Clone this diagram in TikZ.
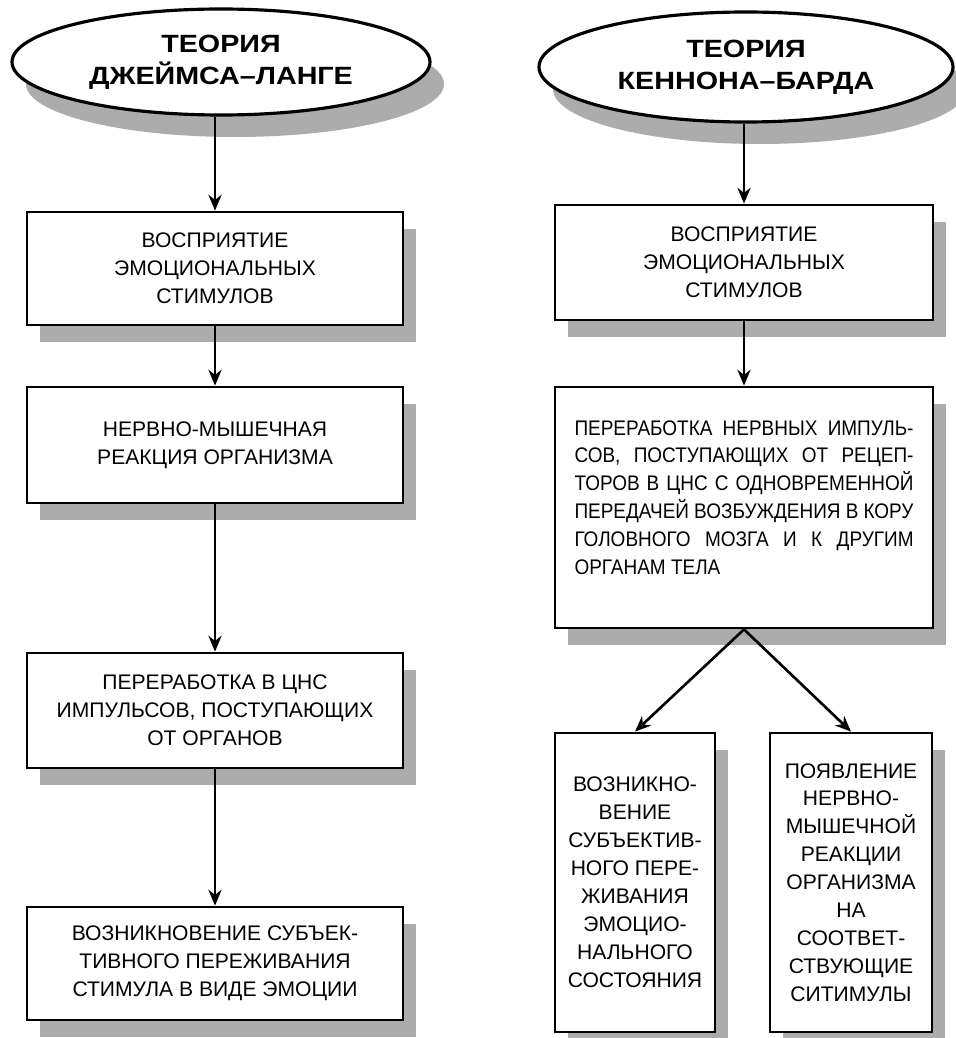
\documentclass[tikz,border=0pt]{standalone}
\usepackage{fontspec}
\setmainfont{Liberation Sans}
\newfontfamily\widefont[FakeStretch=1.15]{Liberation Sans}
\newfontfamily\narrowfont[FakeStretch=0.9]{Liberation Sans}
\usepackage{tikz}
\usetikzlibrary{shapes.geometric, arrows.meta, positioning, shadows}

\newlength{\jw}
\setlength{\jw}{6.78cm}
\newcommand{\jline}[1]{\makebox[\jw][s]{#1}}

\begin{document}
\begin{tikzpicture}[
  title/.style={
    ellipse, draw=black, line width=1.8pt, fill=white, inner sep=0pt,
    font=\widefont\fontsize{14.2}{18.2}\selectfont\bfseries, align=center,
    drop shadow={shadow xshift=0.28cm, shadow yshift=-0.44cm,
      fill=gray!65, opacity=1}
  },
  box/.style={
    rectangle, draw=black, line width=1.6pt, fill=white, inner sep=0pt,
    font=\fontsize{12}{15.9}\selectfont, align=center,
    drop shadow={shadow xshift=0.25cm, shadow yshift=-0.34cm,
      fill=gray!65, opacity=1}
  },
  arrow/.style={-{Stealth[length=9pt, width=7.5pt]}, line width=1.5pt}
]
\useasboundingbox (0,0) rectangle (19.12,-20.76);

% --- Left column: James-Lange ---
\node[title, minimum width=8.36cm, minimum height=2.12cm] (jl) at (4.42,-1.24)
  {ТЕОРИЯ\\ДЖЕЙМСА–ЛАНГЕ};
\node[box, minimum width=7.52cm, minimum height=2.26cm] (jl1) at (4.3,-5.37)
  {ВОСПРИЯТИЕ\\ЭМОЦИОНАЛЬНЫХ\\СТИМУЛОВ};
\node[box, minimum width=7.52cm, minimum height=2.32cm] (jl2) at (4.3,-8.9)
  {НЕРВНО-МЫШЕЧНАЯ\\РЕАКЦИЯ ОРГАНИЗМА};
\node[box, minimum width=7.52cm, minimum height=2.3cm] (jl3) at (4.3,-14.21)
  {ПЕРЕРАБОТКА В ЦНС\\ИМПУЛЬСОВ, ПОСТУПАЮЩИХ\\ОТ ОРГАНОВ};
\node[box, minimum width=7.52cm, minimum height=2.26cm] (jl4) at (4.3,-19.27)
  {ВОЗНИКНОВЕНИЕ СУБЪЕК-\\ТИВНОГО ПЕРЕЖИВАНИЯ\\СТИМУЛА В ВИДЕ ЭМОЦИИ};

% --- Right column: Cannon-Bard ---
\node[title, minimum width=8.28cm, minimum height=2.2cm] (kb) at (14.92,-1.34)
  {ТЕОРИЯ\\КЕННОНА–БАРДА};
\node[box, minimum width=7.56cm, minimum height=2.3cm] (kb1) at (14.88,-5.25)
  {ВОСПРИЯТИЕ\\ЭМОЦИОНАЛЬНЫХ\\СТИМУЛОВ};
\node[box, minimum width=7.56cm, minimum height=4.82cm, align=left,
      font=\narrowfont\fontsize{12}{15.9}\selectfont] (kb2) at (14.88,-10.15)
  {\jline{ПЕРЕРАБОТКА НЕРВНЫХ ИМПУЛЬ-}\\
   \jline{СОВ, ПОСТУПАЮЩИХ ОТ РЕЦЕП-}\\
   \jline{ТОРОВ В ЦНС С ОДНОВРЕМЕННОЙ}\\
   \jline{ПЕРЕДАЧЕЙ ВОЗБУЖДЕНИЯ В КОРУ}\\
   \jline{ГОЛОВНОГО МОЗГА И К ДРУГИМ}\\
   ОРГАНАМ ТЕЛА\\[-0.16cm]};
\node[box, minimum width=3.2cm, minimum height=5.98cm] (kbl) at (12.7,-17.65)
  {ВОЗНИКНО-\\ВЕНИЕ\\СУБЪЕКТИВ-\\НОГО ПЕРЕ-\\ЖИВАНИЯ\\ЭМОЦИО-\\НАЛЬНОГО\\СОСТОЯНИЯ};
\node[box, minimum width=3.24cm, minimum height=5.98cm] (kbr) at (17.02,-17.65)
  {ПОЯВЛЕНИЕ\\НЕРВНО-\\МЫШЕЧНОЙ\\РЕАКЦИИ\\ОРГАНИЗМА\\НА\\СООТВЕТ-\\СТВУЮЩИЕ\\СИТИМУЛЫ};

% Arrows
\draw[arrow] (jl.south -| jl1.north) -- (jl1.north);
\draw[arrow] (jl1) -- (jl2);
\draw[arrow] (jl2) -- (jl3);
\draw[arrow] (jl3) -- (jl4);
\draw[arrow] (kb.south -| kb1.north) -- (kb1.north);
\draw[arrow] (kb1) -- (kb2);
\draw[arrow] (kb2.south) -- (kbl.north);
\draw[arrow] (kb2.south) -- (kbr.north);

\end{tikzpicture}
\end{document}
